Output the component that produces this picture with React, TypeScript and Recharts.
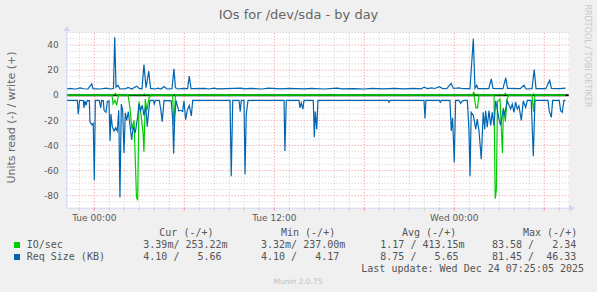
import { CartesianGrid, Line, LineChart, ReferenceLine, XAxis, YAxis } from "recharts";

type Pt = [number, number];

// x = hours after Tue 00:00, y = value (read negative, write positive)
const ioReadPts: Pt[] = [
  [-1.84, 0], [1.18, 0], [1.25, -7], [1.38, -4], [1.49, -8], [1.61, 0], [2.25, 0], [2.38, -10],
  [2.51, -27], [2.65, -20], [2.81, -81], [2.89, -83.6], [2.98, -5], [3.11, -15], [3.25, -30],
  [3.31, -45], [3.4, -3], [3.51, -12], [3.65, -2], [3.78, 0], [5.22, 0], [5.31, -24], [5.41, 0],
  [25.31, 0], [25.45, -10], [25.55, -10], [25.65, 0], [26.65, 0], [26.73, -82.5], [26.81, -75],
  [26.88, -5], [27.05, -3], [27.21, -46], [27.28, -10], [27.41, -21], [27.51, -3], [27.65, 0],
  [29.18, 0], [29.29, -13], [29.38, 0], [31.42, 0],
];

const ioWritePts: Pt[] = [
  [-1.84, 0.3], [1.3, 0.3], [1.4, 1.5], [1.5, 0.3], [3.25, 0.3], [3.33, 1.2], [3.42, 0.3],
  [5.25, 0.3], [5.32, 1.0], [5.4, 0.3], [6.3, 0.3], [6.35, 0.8], [6.42, 0.3], [25.2, 0.3],
  [25.3, 2.34], [25.4, 0.3], [27.3, 0.3], [27.4, 1.5], [27.5, 0.3], [29.2, 0.3], [29.3, 1.2],
  [29.4, 0.3], [31.42, 0.25],
];

const reqReadPts: Pt[] = [
  [-1.84, -4.1], [-1.13, -4.1], [-1.07, -15], [-0.98, -4.1], [-0.73, -4.2], [-0.69, -10],
  [-0.62, -4.5], [-0.55, -8], [-0.47, -4.1], [-0.33, -4.3], [-0.29, -21.5], [-0.15, -23.5],
  [-0.07, -22.5], [0.0, -67.7], [0.07, -4.1], [0.33, -4.1], [0.43, -10], [0.49, -4.1],
  [0.6, -4.3], [0.65, -12], [0.78, -13.5], [0.87, -5], [0.98, -4.5], [1.05, -36.5], [1.11, -15],
  [1.2, -25], [1.31, -28.5], [1.43, -26], [1.53, -28.5], [1.63, -12], [1.71, -81.4], [1.8, -7],
  [1.89, -12], [1.98, -46], [2.07, -14], [2.16, -20], [2.27, -13], [2.38, -24], [2.49, -35.5],
  [2.6, -25], [2.73, -30], [2.87, -19], [2.98, -7], [3.09, -12], [3.2, -8], [3.31, -16],
  [3.43, -9], [3.53, -25], [3.65, -10], [3.71, -4.1], [3.93, -4.1], [4.0, -7], [4.07, -4.1],
  [4.33, -4.1], [4.43, -11], [4.53, -21], [4.65, -4.1], [5.13, -4.5], [5.23, -20], [5.29, -46.5],
  [5.36, -18], [5.45, -4.1], [5.63, -12.6], [5.76, -12], [5.89, -13], [5.98, -4.5], [6.09, -19.5],
  [6.2, -12], [6.33, -8], [6.47, -16.5], [6.56, -4.1], [9.05, -4.1], [9.13, -64.5], [9.23, -4.1],
  [9.65, -4.1], [9.73, -13], [9.8, -4.1], [9.98, -4.1], [10.05, -63], [10.13, -15], [10.25, -4.1],
  [12.65, -4.1], [12.71, -44.5], [12.8, -4.1], [13.65, -4.1], [13.71, -10], [13.8, -6],
  [13.91, -11], [13.98, -4.1], [14.6, -4.1], [14.67, -33.5], [14.73, -13], [14.83, -27],
  [14.91, -4.1], [19.58, -4.1], [19.65, -5.5], [19.71, -4.1], [21.98, -4.1], [22.05, -18.5],
  [22.11, -4.1], [23.0, -4.1], [23.07, -5.5], [23.13, -4.1], [23.71, -4.1], [23.8, -28.5],
  [23.89, -18], [24.0, -53.5], [24.09, -4.1], [24.31, -4.1], [24.43, -6.5], [24.53, -4.5],
  [24.65, -4.1], [24.87, -4.1], [24.98, -27], [25.05, -64.5], [25.13, -13.6], [25.27, -16],
  [25.43, -27], [25.53, -19], [25.65, -28.5], [25.8, -51], [25.93, -13.6], [26.03, -27],
  [26.09, -12.3], [26.2, -25.5], [26.31, -12.3], [26.43, -24], [26.53, -13.6], [26.65, -24],
  [26.76, -4.5], [26.87, -11], [26.98, -19], [27.09, -24], [27.27, -11], [27.36, -16],
  [27.53, -4.5], [27.76, -11], [27.87, -7], [27.98, -13.6], [28.09, -5.5], [28.2, -11],
  [28.31, -8.4], [28.47, -20], [28.6, -4.5], [28.76, -9.7], [28.87, -4.1], [29.13, -4.1],
  [29.27, -48.5], [29.38, -4.1], [30.25, -4.1], [30.33, -12.3], [30.47, -17.6], [30.56, -4.1],
  [31.0, -4.1], [31.09, -12.3], [31.2, -13.6], [31.31, -4.1], [31.42, -4.1],
];

const reqWritePts: Pt[] = [
  [-1.84, 5.0], [-1.62, 5.5], [-1.4, 5.1], [-1.22, 5.0], [-0.95, 5.8], [-0.7, 5.2], [-0.42, 5.0],
  [-0.17, 9.0], [-0.09, 5.3], [0.38, 5.0], [0.78, 5.6], [1.11, 5.0], [1.28, 5.5], [1.36, 46.3],
  [1.45, 6.5], [1.58, 8.0], [1.71, 5.0], [2.11, 5.3], [2.25, 6.2], [2.51, 5.0], [2.71, 6.5],
  [2.85, 7.2], [2.98, 5.5], [3.18, 5.2], [3.31, 24.4], [3.45, 6.0], [3.63, 19.2], [3.75, 5.5],
  [4.05, 5.0], [4.25, 5.7], [4.45, 5.0], [4.65, 7.0], [4.85, 5.0], [5.18, 5.2], [5.31, 21.0],
  [5.41, 6.0], [5.58, 5.0], [5.91, 5.4], [6.22, 5.2], [6.33, 15.2], [6.45, 5.2], [7.4, 5.4],
  [7.6, 5.0], [8.0, 5.7], [8.2, 5.1], [8.8, 5.3], [9.8, 5.7], [10.0, 5.1], [10.4, 5.4],
  [11.2, 5.0], [11.6, 5.6], [12.4, 5.1], [13.0, 5.4], [14.0, 5.1], [14.5, 5.5], [15.3, 5.0],
  [16.2, 5.7], [16.5, 5.1], [17.3, 5.3], [18.0, 5.0], [18.5, 5.5], [19.3, 5.1], [20.0, 5.4],
  [20.7, 5.1], [21.3, 5.5], [21.8, 5.1], [22.0, 6.5], [22.2, 5.3], [22.5, 5.9], [22.7, 5.4],
  [23.0, 6.8], [23.2, 5.5], [23.5, 5.2], [23.79, 9.4], [23.95, 5.4], [24.3, 5.8], [24.6, 5.2],
  [25.05, 5.2], [25.27, 45.0], [25.38, 5.5], [25.5, 8.0], [25.58, 5.2], [26.3, 5.3],
  [26.47, 13.0], [26.58, 5.5], [27.25, 5.2], [27.43, 13.9], [27.55, 5.5], [28.4, 5.2],
  [28.65, 8.0], [28.78, 5.0], [29.18, 5.2], [29.33, 20.5], [29.45, 5.3], [30.1, 5.2],
  [30.36, 11.8], [30.48, 5.4], [31.0, 5.3], [31.42, 5.66],
];

const hourTicks = [
  -1, 0, 1, 2, 3, 4, 5, 6, 7, 8, 9, 10, 11, 12, 13, 14, 15, 16, 17, 18, 19, 20, 21, 22, 23, 24,
  25, 26, 27, 28, 29, 30, 31,
];
const majorHours = [0, 6, 12, 18, 24, 30];
const xLabels: Record<number, string> = { 0: "Tue 00:00", 12: "Tue 12:00", 24: "Wed 00:00" };

const yTicks = [-80, -60, -40, -20, 0, 20, 40];
const yMajor = [-80, -60, -40, -20, 20, 40];
const yMinor = [
  -85, -75, -70, -65, -55, -50, -45, -35, -30, -25, -15, -10, -5, 5, 10, 15, 25, 30, 35, 45, 50,
];

const statHeaders = ["Cur (-/+)", "Min (-/+)", "Avg (-/+)", "Max (-/+)"];
const ioStats = ["3.39m/ 253.22m", "3.32m/ 237.00m", "1.17 / 413.15m", "83.58 /   2.34"];
const reqStats = ["4.10 /   5.66", "4.10 /   4.17", "8.75 /   5.65", "81.45 /  46.33"];

const toPts = (a: Pt[]) => a.map(([t, v]) => ({ t, v }));

const GREEN = "#00cc00";
const BLUE = "#0066b3";
const headerX = [159.3, 281, 402, 523];
const statX = [143.3, 261, 380.3, 492];

const XTick = (props: any) => {
  const { x, y, payload } = props;
  const h = payload.value as number;
  const major = majorHours.includes(h);
  return (
    <g>
      <line x1={x} x2={x} y1={y} y2={y + 2.5} stroke={major ? "#f08c8c" : "#c8c8c8"} />
      {xLabels[h] && (
        <text x={x} y={y + 12.8} textAnchor="middle" fontSize={9} fill="#5a5a5a">
          {xLabels[h]}
        </text>
      )}
    </g>
  );
};

export default function App() {
  return (
    <div
      style={{
        position: "relative",
        width: 597,
        height: 292,
        background: "#f0f0f0",
        fontFamily: "'DejaVu Sans', sans-serif",
      }}
    >
      <style>{"body{margin:0}"}</style>
      <LineChart
        width={597}
        height={292}
        margin={{ top: 32.5, right: 28.3, bottom: 63.8, left: 0 }}
      >
        <CartesianGrid fill="#ffffff" fillOpacity={1} horizontal={false} vertical={false} />
        <XAxis
          dataKey="t"
          type="number"
          domain={[-1.84, 31.63]}
          allowDataOverflow
          ticks={hourTicks}
          interval={0}
          tick={XTick}
          tickLine={false}
          tickSize={0}
          tickMargin={0}
          height={20}
          axisLine={{ stroke: "#cfd6f8" }}
        />
        <YAxis
          type="number"
          domain={[-90, 50]}
          allowDataOverflow
          ticks={yTicks}
          interval={0}
          width={66.7}
          tickLine={false}
          tickSize={0}
          tickMargin={8}
          tick={{ fontSize: 9, fill: "#5a5a5a" }}
          axisLine={{ stroke: "#cfd6f8" }}
        />
        {yMinor.map((v) => (
          <ReferenceLine key={`ym${v}`} y={v} stroke="#cccccc" strokeDasharray="1 2" />
        ))}
        {hourTicks
          .filter((h) => !majorHours.includes(h))
          .map((h) => (
            <ReferenceLine key={`xm${h}`} x={h} stroke="#cccccc" strokeDasharray="1 2" />
          ))}
        {yMajor.map((v) => (
          <ReferenceLine key={`yM${v}`} y={v} stroke="#f08c8c" strokeDasharray="1 2" />
        ))}
        {majorHours.map((h) => (
          <ReferenceLine key={`xM${h}`} x={h} stroke="#f08c8c" strokeDasharray="1 2" />
        ))}
        <ReferenceLine y={0} stroke="#000000" strokeWidth={2} />
        <Line
          data={toPts(ioReadPts)}
          dataKey="v"
          stroke={GREEN}
          strokeWidth={1.2}
          dot={false}
          isAnimationActive={false}
        />
        <Line
          data={toPts(reqReadPts)}
          dataKey="v"
          stroke={BLUE}
          strokeWidth={1.2}
          dot={false}
          isAnimationActive={false}
        />
        <Line
          data={toPts(reqWritePts)}
          dataKey="v"
          stroke={BLUE}
          strokeWidth={1.2}
          dot={false}
          isAnimationActive={false}
        />
        <Line
          data={toPts(ioWritePts)}
          dataKey="v"
          stroke={GREEN}
          strokeWidth={1.2}
          dot={false}
          isAnimationActive={false}
        />
      </LineChart>

      <svg
        width={597}
        height={292}
        style={{ position: "absolute", left: 0, top: 0, pointerEvents: "none" }}
      >
        <polygon points="63.2,31 66.7,26 70.2,31" fill="#cfd6f8" />
        <polygon points="569,204.7 575,208.2 569,211.7" fill="#cfd6f8" />
        <line x1={66.7} x2={66.7} y1={30} y2={32.5} stroke="#cfd6f8" />
        <line x1={568.7} x2={570} y1={208.2} y2={208.2} stroke="#cfd6f8" />

        <text x={298.5} y={18.8} textAnchor="middle" fontSize={13} fill="#666666">
          IOs for /dev/sda - by day
        </text>
        <text
          transform="translate(15,117.5) rotate(-90)"
          textAnchor="middle"
          fontSize={11}
          fill="#666666"
        >
          Units read (-) / write (+)
        </text>
        <text
          transform="translate(585,56) rotate(90)"
          textAnchor="middle"
          fontSize={8}
          fill="#c8c8c8"
        >
          RRDTOOL / TOBI OETIKER
        </text>

        <g fontFamily="'DejaVu Sans Mono', monospace" fontSize={10} fill="#555555">
          {statHeaders.map((s, i) => (
            <text key={s} x={headerX[i]} y={235.7} style={{ whiteSpace: "pre" }}>
              {s}
            </text>
          ))}
          <rect x={14} y={242} width={6} height={6} fill={GREEN} />
          <text x={26.7} y={248.3} style={{ whiteSpace: "pre" }}>
            IO/sec
          </text>
          {ioStats.map((s, i) => (
            <text key={`io${i}`} x={statX[i]} y={248.3} style={{ whiteSpace: "pre" }}>
              {s}
            </text>
          ))}
          <rect x={14} y={254} width={6} height={6} fill={BLUE} />
          <text x={26.7} y={260.3} style={{ whiteSpace: "pre" }}>
            Req Size (KB)
          </text>
          {reqStats.map((s, i) => (
            <text key={`rq${i}`} x={statX[i]} y={260.3} style={{ whiteSpace: "pre" }}>
              {s}
            </text>
          ))}
          <text x={361.3} y={271.7} style={{ whiteSpace: "pre" }}>
            Last update: Wed Dec 24 07:25:05 2025
          </text>
        </g>
        <text x={298} y={283.7} textAnchor="middle" fontSize={7.5} fill="#c0c0c0">
          Munin 2.0.75
        </text>
      </svg>
    </div>
  );
}
